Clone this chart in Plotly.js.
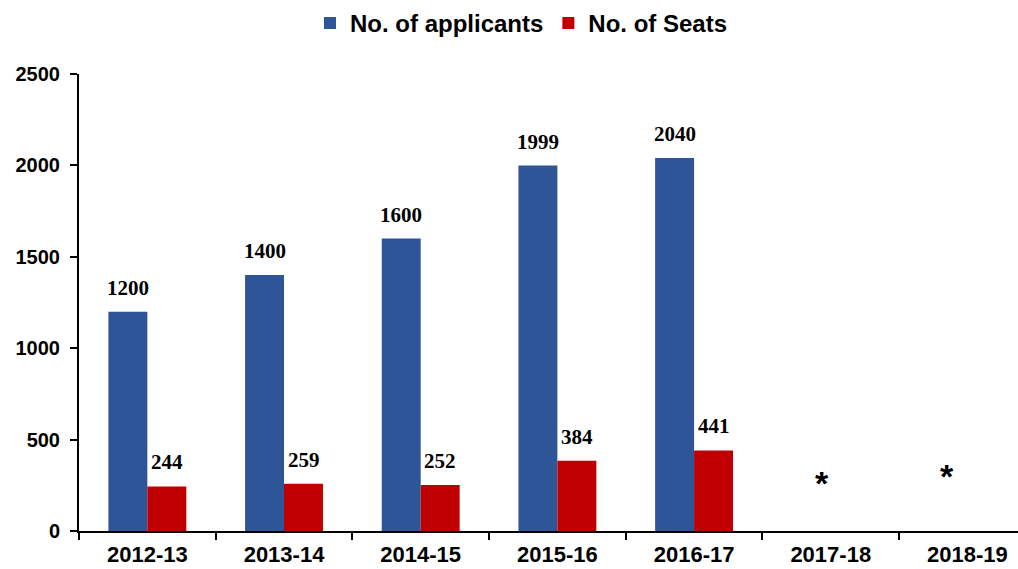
<!DOCTYPE html>
<html>
<head>
<meta charset="utf-8">
<script src="https://cdn.plot.ly/plotly-3.0.1.min.js"></script>
<style>html,body{margin:0;padding:0;background:#fff;}#chart{width:1018px;height:569px;}</style>
</head>
<body>
<div id="chart"></div>
<script>
const categories = ['2012-13', '2013-14', '2014-15', '2015-16', '2016-17', '2017-18', '2018-19'];
const applicants = [1200, 1400, 1600, 1999, 2040, null, null];
const seats = [244, 259, 252, 384, 441, null, null];
const noteCategories = ['2017-18', '2018-19'];
const noteText = ['*', '*'];
const noteY = [150, 185];

const blue = '#2E5597';
const red = '#C00000';
const sans = 'Liberation Sans, Arial, sans-serif';
const serif = 'Liberation Serif, Times New Roman, serif';

const traces = [
  {type: 'bar', name: 'No. of applicants', x: categories, y: applicants,
   marker: {color: blue}, hoverinfo: 'x+y'},
  {type: 'bar', name: 'No. of Seats', x: categories, y: seats,
   marker: {color: red}, hoverinfo: 'x+y'}
];

const annotations = [];
function addLabels(vals, shift) {
  vals.forEach((v, i) => {
    if (v === null) return;
    annotations.push({x: categories[i], y: v, text: String(v), showarrow: false,
      xref: 'x', yref: 'y', yanchor: 'bottom', xshift: shift, yshift: 10,
      font: {family: serif, size: 21, color: '#000', weight: 700}});
  });
}
addLabels(applicants, -19.5);
addLabels(seats, 19.5);
noteCategories.forEach((c, i) => {
  annotations.push({x: c, y: noteY[i], text: noteText[i], showarrow: false,
    xref: 'x', yref: 'y', yanchor: 'bottom', xshift: (i === 0 ? -9 : -20),
    font: {family: sans, size: 34, color: '#000', weight: 700}});
});

const layout = {
  width: 1018, height: 569,
  margin: {l: 79, r: 0, t: 74, b: 38},
  paper_bgcolor: '#fff', plot_bgcolor: '#fff',
  barmode: 'group', bargap: 0.43, bargroupgap: 0,
  showlegend: true,
  legend: {orientation: 'h', x: 0.246, xanchor: 'left', y: 1.16, yanchor: 'top',
    font: {family: sans, size: 24, color: '#000', weight: 700},
    traceorder: 'normal', itemwidth: 30},
  xaxis: {type: 'category', range: [-0.5, 6.37], showline: true, linecolor: '#000', linewidth: 2,
    ticks: 'outside', tickson: 'boundaries', ticklen: 7, tickwidth: 2, tickcolor: '#000',
    ticklabelstandoff: 3, automargin: false,
    showgrid: false, zeroline: false, fixedrange: true,
    tickfont: {family: sans, size: 22, color: '#000', weight: 700}},
  yaxis: {range: [0, 2500], dtick: 500, tick0: 0, showline: true, linecolor: '#000', linewidth: 2,
    ticks: 'outside', ticklen: 7, tickwidth: 2, tickcolor: '#000', ticklabelstandoff: 6,
    showgrid: false, zeroline: false, fixedrange: true,
    tickfont: {family: sans, size: 20, color: '#000', weight: 700}},
  annotations: annotations
};

Plotly.newPlot('chart', traces, layout, {displayModeBar: false, staticPlot: true});
</script>
</body>
</html>
